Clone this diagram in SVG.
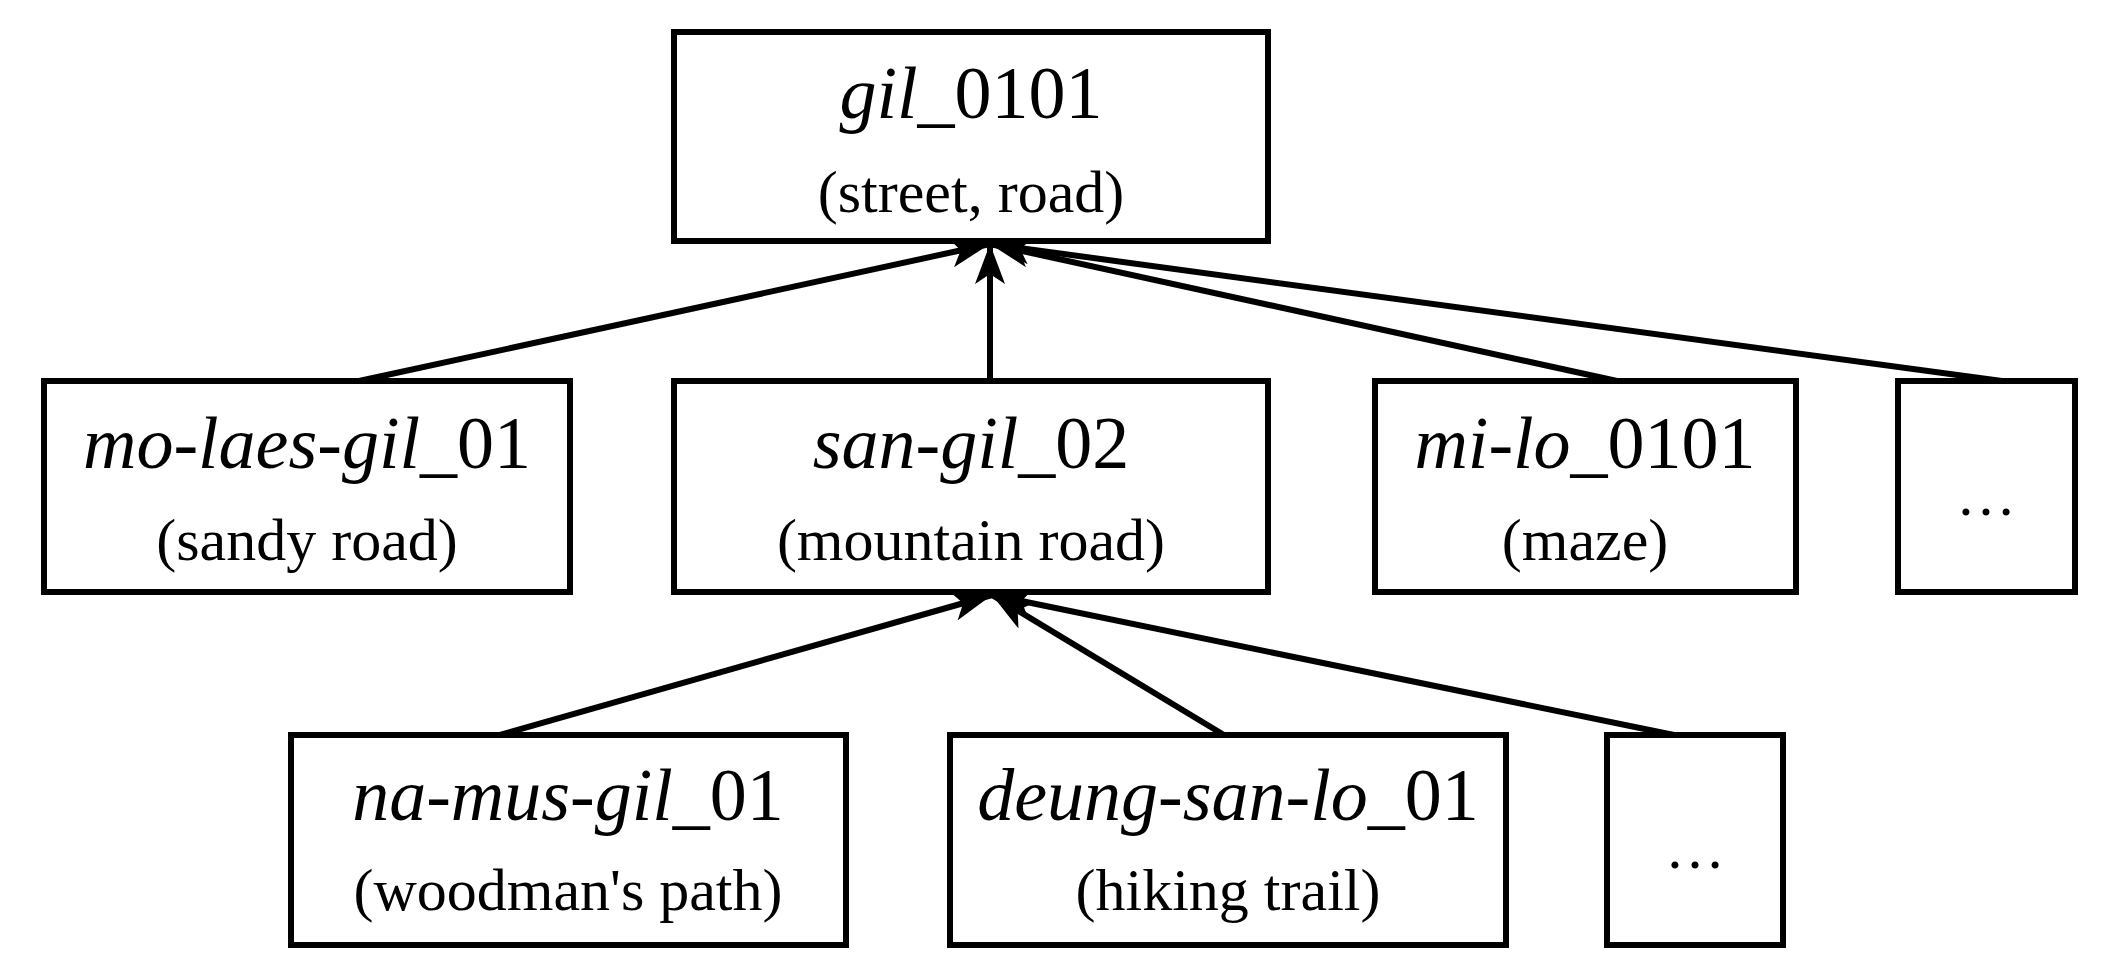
<svg xmlns="http://www.w3.org/2000/svg" width="2123" height="969" viewBox="0 0 2123 969">
<style>
.box{fill:#fff;stroke:#000;stroke-width:6}
.t1{font-family:"Liberation Serif",serif;font-size:74px;text-anchor:middle}
.t2{font-family:"Liberation Serif",serif;font-size:60px;text-anchor:middle}
.i{font-style:italic}
.c{stroke:#000;stroke-width:6;fill:none;marker-end:url(#ah)}
</style>
<defs>
<marker id="ah" markerUnits="userSpaceOnUse" viewBox="0 0 40 30" refX="40" refY="15" markerWidth="40" markerHeight="30" orient="auto">
<path d="M0,0 L40,15 L0,30 L10,15 Z" fill="#000"/>
</marker>
</defs>
<rect width="2123" height="969" fill="#fff"/>
<g id="connectors">
<line class="c" x1="359" y1="381" x2="990" y2="244"/>
<line class="c" x1="990" y1="381" x2="990" y2="244"/>
<line class="c" x1="1617" y1="381" x2="990" y2="244"/>
<line class="c" x1="2002" y1="381" x2="990" y2="244"/>
<line class="c" x1="500" y1="735" x2="992" y2="595"/>
<line class="c" x1="1224" y1="735" x2="992" y2="595"/>
<line class="c" x1="1674" y1="735" x2="992" y2="595"/>
</g>
<g id="gil_0101"><rect class="box" x="674" y="32" width="594" height="209"/>
<text class="t1" x="971" y="118"><tspan class="i">gil</tspan>_0101</text>
<text class="t2" x="971" y="212">(street, road)</text></g>
<g id="mo-laes-gil_01"><rect class="box" x="44" y="381" width="526" height="211"/>
<text class="t1" x="307" y="468"><tspan class="i">mo-laes-gil</tspan>_01</text>
<text class="t2" x="307" y="560">(sandy road)</text></g>
<g id="san-gil_02"><rect class="box" x="674" y="381" width="594" height="211"/>
<text class="t1" x="971" y="468"><tspan class="i">san-gil</tspan>_02</text>
<text class="t2" x="971" y="560">(mountain road)</text></g>
<g id="mi-lo_0101"><rect class="box" x="1375" y="381" width="421" height="211"/>
<text class="t1" x="1585" y="468"><tspan class="i">mi-lo</tspan>_0101</text>
<text class="t2" x="1585" y="560">(maze)</text></g>
<g id="more1"><rect class="box" x="1898" y="381" width="177" height="211"/>
<text class="t2" x="1986" y="515">…</text></g>
<g id="na-mus-gil_01"><rect class="box" x="291" y="735" width="555" height="210"/>
<text class="t1" x="568" y="820"><tspan class="i">na-mus-gil</tspan>_01</text>
<text class="t2" x="568" y="910">(woodman's path)</text></g>
<g id="deung-san-lo_01"><rect class="box" x="950" y="735" width="556" height="210"/>
<text class="t1" x="1228" y="820"><tspan class="i">deung-san-lo</tspan>_01</text>
<text class="t2" x="1228" y="910">(hiking trail)</text></g>
<g id="more2"><rect class="box" x="1607" y="735" width="176" height="210"/>
<text class="t2" x="1695" y="868">…</text></g>
</svg>
